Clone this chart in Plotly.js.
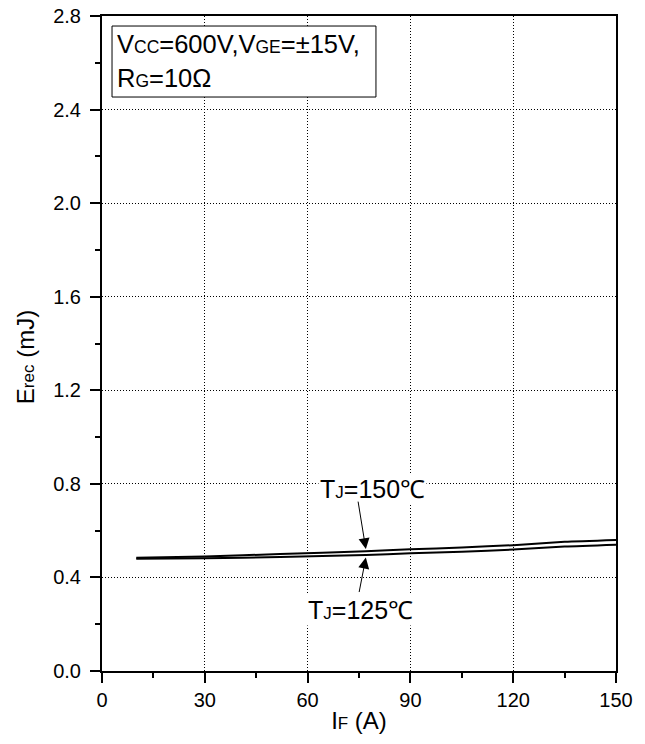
<!DOCTYPE html>
<html>
<head>
<meta charset="utf-8">
<script src="https://cdn.plot.ly/plotly-3.0.1.min.js"></script>
<style>
html,body{margin:0;padding:0;background:#fff;}
#chart{width:645px;height:744px;}
</style>
</head>
<body>
<div id="chart"></div>
<script>
// Data
var currentA = [10, 30, 52, 77, 90, 105, 120, 135, 150];
var erec150 = [0.484, 0.490, 0.500, 0.512, 0.520, 0.528, 0.538, 0.552, 0.560];
var erec125 = [0.480, 0.482, 0.487, 0.496, 0.503, 0.510, 0.519, 0.532, 0.540];
var xTicks = [0, 30, 60, 90, 120, 150];
var yTicks = [0.0, 0.4, 0.8, 1.2, 1.6, 2.0, 2.4, 2.8];
var seriesNames = ['T<sub>J</sub>=150℃', 'T<sub>J</sub>=125℃'];

var FONT = 'Liberation Sans, Arial, sans-serif';
var sm = function(t, s){ return '<span style="font-size:' + s + 'px">' + t + '</span>'; };

var traces = [
  {x: currentA, y: erec150, mode: 'lines', name: seriesNames[0],
   line: {color: '#000', width: 2, shape: 'spline', smoothing: 0.6}},
  {x: currentA, y: erec125, mode: 'lines', name: seriesNames[1],
   line: {color: '#000', width: 2, shape: 'spline', smoothing: 0.6}}
];

var axisCommon = {
  showline: true, linecolor: '#000', linewidth: 2, mirror: true,
  ticks: 'outside', ticklen: 10, tickwidth: 2, tickcolor: '#000',
  showgrid: true, gridcolor: '#000', gridwidth: 1, griddash: '1px,2px',
  zeroline: false,
  tickfont: {family: FONT, size: 20, color: '#000'}
};

var layout = {
  width: 645, height: 744,
  margin: {l: 102, r: 29, t: 16, b: 73},
  paper_bgcolor: '#fff', plot_bgcolor: '#fff',
  showlegend: false,
  font: {family: FONT, color: '#000'},
  xaxis: Object.assign({}, axisCommon, {
    range: [0, 150], tickvals: xTicks, ticktext: xTicks.map(String),
    minor: {dtick: 15, tick0: 0, ticks: 'outside', ticklen: 5, tickwidth: 2, tickcolor: '#000', showgrid: false},
    title: {text: 'I' + sm('F', 17) + ' (A)', font: {family: FONT, size: 24, color: '#000'}, standoff: 2}
  }),
  yaxis: Object.assign({}, axisCommon, {
    range: [0, 2.8], tickvals: yTicks, ticktext: yTicks.map(function(v){return v.toFixed(1);}),
    ticklabelstandoff: 5,
    minor: {dtick: 0.2, tick0: 0, ticks: 'outside', ticklen: 5, tickwidth: 2, tickcolor: '#000', showgrid: false}
  }),
  shapes: [
    {type: 'rect', xref: 'paper', yref: 'paper', x0: 0.0195, x1: 0.533, y0: 0.8763, y1: 0.9847,
     line: {color: '#000', width: 1}, fillcolor: '#fff', layer: 'above'}
  ],
  annotations: [
    // y-axis title
    {xref: 'paper', yref: 'paper', x: -0.150, y: 0.479, textangle: -90, showarrow: false,
     xanchor: 'center', yanchor: 'middle',
     text: 'E' + sm('rec', 17) + ' (mJ)', font: {family: FONT, size: 24, color: '#000'}},
    // condition box
    {xref: 'paper', yref: 'paper', x: 0.026, y: 0.958, xanchor: 'left', yanchor: 'middle', showarrow: false,
     text: 'V' + sm('CC', 17.5) + '=600V,V' + sm('GE', 17.5) + '=±15V,', font: {family: FONT, size: 25.5, color: '#000'}},
    {xref: 'paper', yref: 'paper', x: 0.026, y: 0.905, xanchor: 'left', yanchor: 'middle', showarrow: false,
     text: 'R' + sm('G', 17.5) + '=10Ω', font: {family: FONT, size: 25.5, color: '#000'}},
    // labels
    {xref: 'x', yref: 'y', x: 79.0, y: 0.778, showarrow: false, bgcolor: '#fff',
     text: 'T' + sm('J', 17) + '=150℃', font: {family: FONT, size: 25, color: '#000'}},
    {xref: 'x', yref: 'y', x: 75.3, y: 0.26, showarrow: false, bgcolor: '#fff',
     text: 'T' + sm('J', 17) + '=125℃', font: {family: FONT, size: 25, color: '#000'}},
    // arrows
    {xref: 'x', yref: 'y', x: 77.0, y: 0.521, text: '', showarrow: true, ax: -8, ay: -49,
     arrowhead: 2, arrowsize: 2.2, arrowwidth: 1, arrowcolor: '#000', standoff: 0},
    {xref: 'x', yref: 'y', x: 77.0, y: 0.485, text: '', showarrow: true, ax: -7, ay: 36,
     arrowhead: 2, arrowsize: 2.2, arrowwidth: 1, arrowcolor: '#000', standoff: 0}
  ]
};

Plotly.newPlot('chart', traces, layout, {displayModeBar: false, staticPlot: true});
</script>
</body>
</html>
